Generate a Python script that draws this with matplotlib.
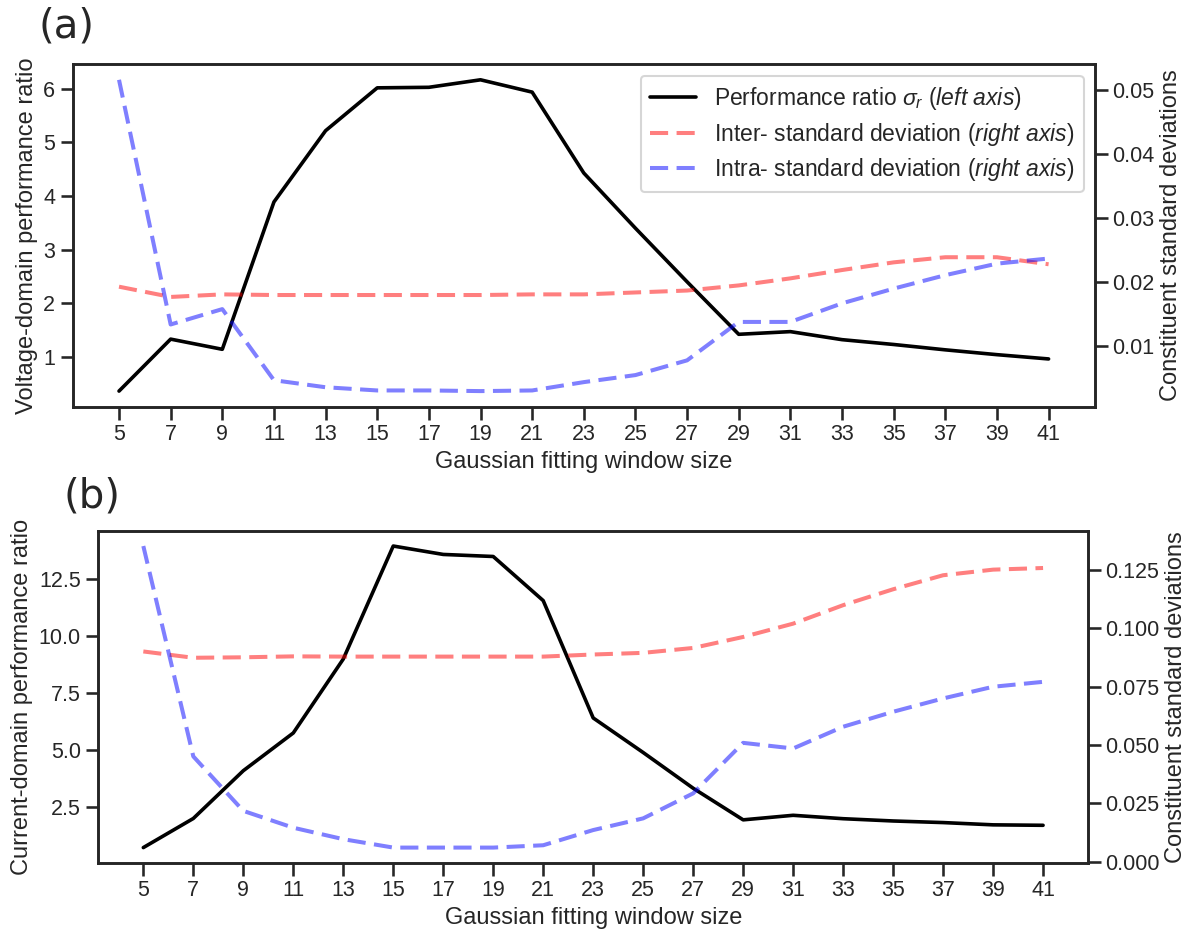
import matplotlib
matplotlib.use('Agg')
import matplotlib.pyplot as plt
import seaborn as sns

sns.set_style('ticks')
sns.set_context('talk', rc={'xtick.labelsize': 15.5, 'ytick.labelsize': 15.5,
                            'axes.labelsize': 17})
plt.rcParams['font.family'] = ['Liberation Sans', 'DejaVu Sans']
plt.rcParams['mathtext.fontset'] = 'custom'
plt.rcParams['mathtext.rm'] = 'Liberation Sans'
plt.rcParams['mathtext.it'] = 'Liberation Sans:italic'

# Gaussian fitting window sizes
window = [5, 7, 9, 11, 13, 15, 17, 19, 21, 23, 25, 27, 29, 31, 33, 35, 37, 39, 41]

# (a) voltage domain
v_ratio = [0.36, 1.33, 1.14, 3.89, 5.22, 6.02, 6.03, 6.17, 5.94, 4.43,
           3.40, 2.40, 1.42, 1.47, 1.32, 1.23, 1.13, 1.04, 0.96]
v_inter = [0.0193, 0.0177, 0.0181, 0.0180, 0.0180, 0.0180, 0.0180, 0.0180, 0.0181, 0.0181,
           0.0184, 0.0187, 0.0195, 0.0206, 0.0219, 0.0231, 0.0239, 0.0239, 0.0228]
v_intra = [0.0516, 0.0134, 0.0158, 0.0047, 0.0036, 0.0031, 0.0031, 0.0030, 0.0031, 0.0044,
           0.0055, 0.0078, 0.0138, 0.0138, 0.0167, 0.0190, 0.0211, 0.0229, 0.0237]

# (b) current domain
c_ratio = [0.71, 1.99, 4.09, 5.75, 9.00, 13.97, 13.60, 13.51, 11.57, 6.41,
           4.89, 3.32, 1.93, 2.13, 1.98, 1.88, 1.81, 1.71, 1.69]
c_inter = [0.0900, 0.0873, 0.0875, 0.0879, 0.0878, 0.0878, 0.0878, 0.0878, 0.0878, 0.0887,
           0.0894, 0.0915, 0.0962, 0.1019, 0.1098, 0.1166, 0.1226, 0.1250, 0.1257]
c_intra = [0.1351, 0.0451, 0.0218, 0.0146, 0.0097, 0.0061, 0.0061, 0.0061, 0.0071, 0.0136,
           0.0186, 0.0293, 0.0509, 0.0485, 0.0578, 0.0642, 0.0699, 0.0749, 0.0770]

DASH = (4.5, 2.1)


def panel(fig, rect, ratio, inter, intra, ylabel, legend=False, rpad=4):
    ax = fig.add_axes(rect)
    ax2 = ax.twinx()
    l1, = ax.plot(window, ratio, color='black', lw=2.6,
                  label=r'Performance ratio $\sigma_r$ ($\mathit{left\ axis}$)')
    l2, = ax2.plot(window, inter, color='red', alpha=0.5, lw=2.9, dashes=DASH,
                   label=r'Inter- standard deviation ($\mathit{right\ axis}$)')
    l3, = ax2.plot(window, intra, color='blue', alpha=0.5, lw=2.9, dashes=DASH,
                   label=r'Intra- standard deviation ($\mathit{right\ axis}$)')
    ax.set_xticks(window)
    ax.set_xlabel('Gaussian fitting window size')
    ax.set_ylabel(ylabel)
    ax2.set_ylabel('Constituent standard deviations', labelpad=rpad)
    if legend:
        ax2.legend(handles=[l1, l2, l3], loc='upper right', labelspacing=0.38)
    return ax, ax2


fig = plt.figure(figsize=(11.89, 9.31), dpi=100)

panel(fig, [0.0610, 0.5632, 0.8600, 0.3678], v_ratio, v_inter, v_intra,
      'Voltage-domain performance ratio', legend=True)
panel(fig, [0.0827, 0.0734, 0.8324, 0.3563], c_ratio, c_inter, c_intra,
      'Current-domain performance ratio', rpad=4)

fig.text(0.032, 0.960, '(a)', fontsize=29, family='DejaVu Sans')
fig.text(0.053, 0.4544, '(b)', fontsize=29, family='DejaVu Sans')

fig.savefig('out.png', dpi=100)
